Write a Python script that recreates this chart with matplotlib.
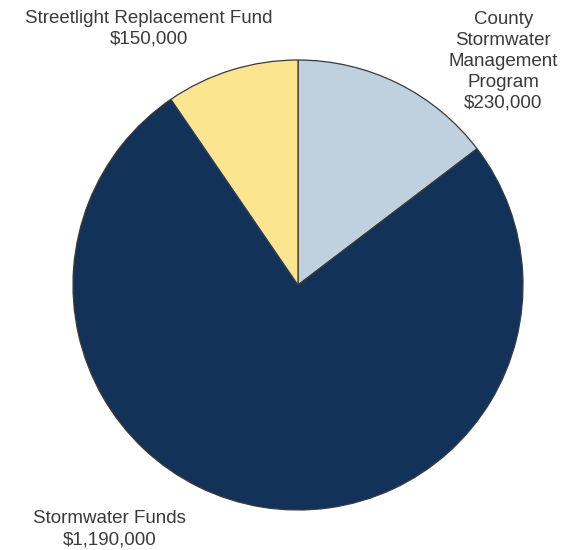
import matplotlib.pyplot as plt

# data
labels = ['County\nStormwater\nManagement\nProgram', 'Stormwater Funds', 'Streetlight Replacement Fund']
values = [230000, 1190000, 150000]
colors = ['#bfd1de', '#13325a', '#fbe68f']

plt.rcParams['font.family'] = ['Liberation Sans', 'DejaVu Sans']

fig = plt.figure(figsize=(5.7, 5.5), dpi=100)
ax = fig.add_axes([73 / 570, 40 / 550, 450 / 570, 450 / 550])

ax.pie(values, colors=colors, startangle=90, counterclock=False, radius=1,
       wedgeprops=dict(edgecolor='#3a3a3a', linewidth=0.9))
ax.set_xlim(-1, 1)
ax.set_ylim(-1, 1)
ax.set_aspect('auto')
ax.axis('off')

# label positions in data units
label_pos = [(0.913, 0.993), (-0.836, -1.085), (-0.662, 1.138)]
for lab, val, (x, y) in zip(labels, values, label_pos):
    ax.text(x, y, f"{lab}\n${val:,}", ha='center', va='center',
            fontsize=13.5, color='#3a3a3a', linespacing=1.3, clip_on=False)

fig.savefig('out.png', dpi=100)
